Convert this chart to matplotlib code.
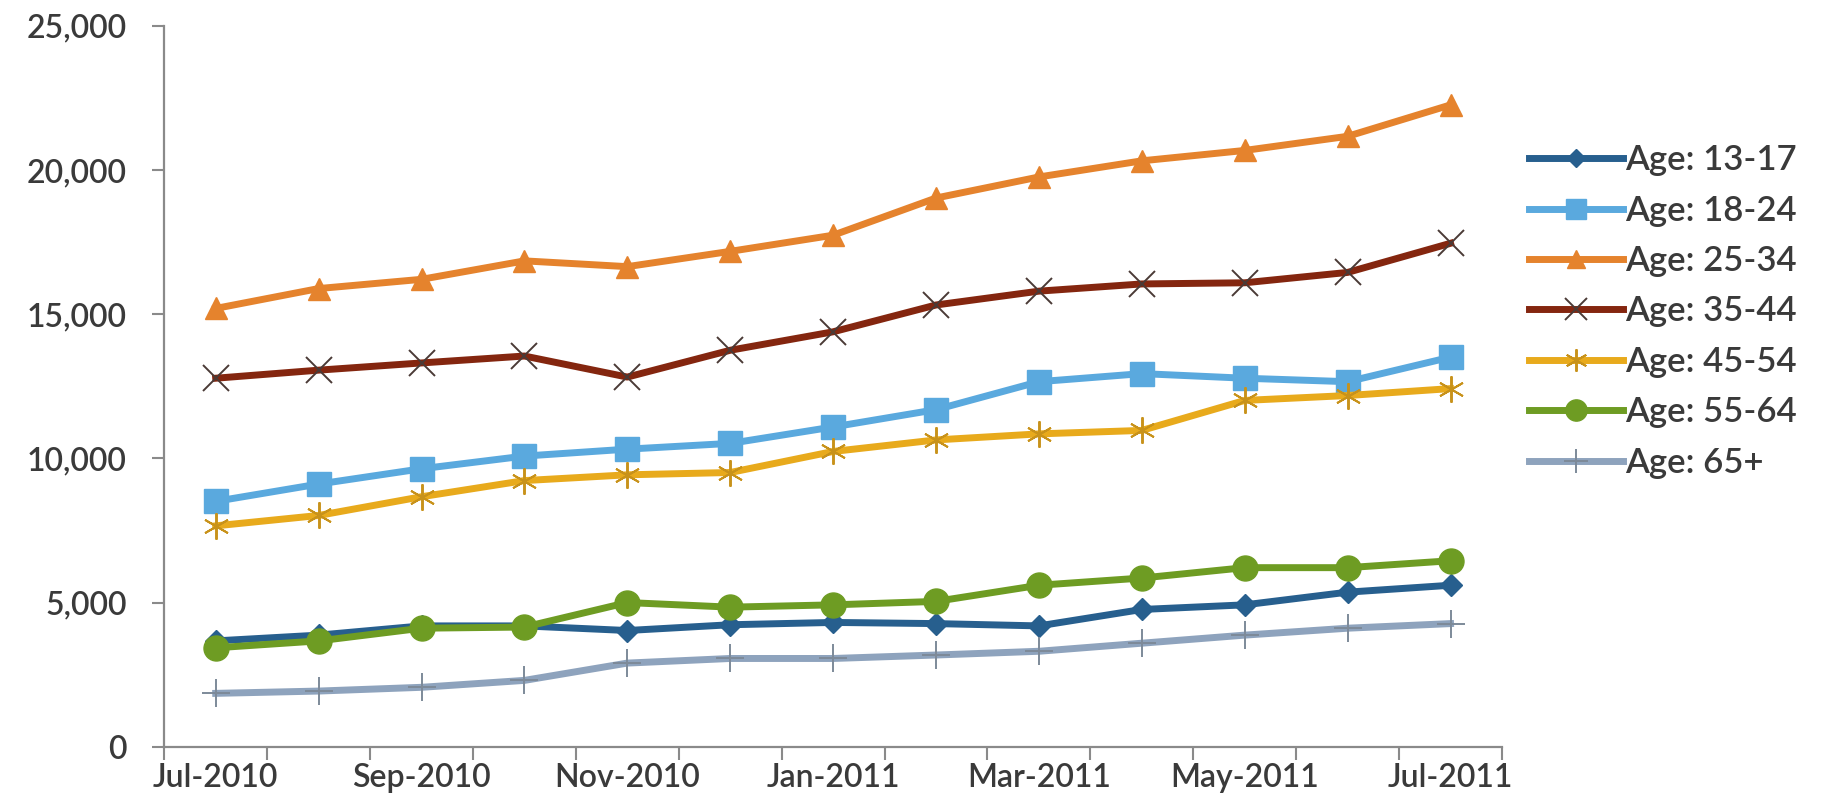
import matplotlib
matplotlib.use('Agg')
import matplotlib.pyplot as plt

months = ['Jul-2010', 'Aug-2010', 'Sep-2010', 'Oct-2010', 'Nov-2010', 'Dec-2010', 'Jan-2011',
          'Feb-2011', 'Mar-2011', 'Apr-2011', 'May-2011', 'Jun-2011', 'Jul-2011']

age_13_17 = [3670, 3870, 4190, 4190, 4030, 4230, 4310, 4270, 4190, 4760, 4920, 5360, 5600]
age_18_24 = [8510, 9110, 9640, 10080, 10320, 10520, 11090, 11690, 12660, 12940, 12780, 12660, 13510]
age_25_34 = [15200, 15890, 16210, 16850, 16650, 17180, 17740, 19030, 19760, 20320, 20680, 21170, 22260]
age_35_44 = [12780, 13060, 13310, 13550, 12820, 13750, 14390, 15320, 15800, 16050, 16090, 16450, 17460]
age_45_54 = [7660, 8020, 8670, 9230, 9430, 9510, 10240, 10640, 10850, 10970, 12010, 12180, 12420]
age_55_64 = [3430, 3670, 4110, 4150, 5000, 4840, 4920, 5040, 5600, 5850, 6210, 6210, 6450]
age_65 = [1850, 1930, 2060, 2300, 2900, 3060, 3060, 3180, 3310, 3590, 3870, 4110, 4270]

labels = ['Age: 13-17', 'Age: 18-24', 'Age: 25-34', 'Age: 35-44', 'Age: 45-54', 'Age: 55-64', 'Age: 65+']
series = [age_13_17, age_18_24, age_25_34, age_35_44, age_45_54, age_55_64, age_65]

# line colour, marker, marker size, marker face, marker edge, edge width
styles = [
    ('#275F8E', 'D', 11, '#275F8E', '#275F8E', 1),
    ('#5AA9DE', 's', 17, '#5AA9DE', '#5AA9DE', 1),
    ('#E5832D', '^', 16, '#E5832D', '#E5832D', 1),
    ('#84260F', 'x', 19, 'none', '#4A3A36', 1.4),
    ('#E8AA1C', (6, 2, 0), 19, 'none', '#C8921A', 1.4),
    ('#6E9C23', 'o', 18, '#6E9C23', '#6E9C23', 1),
    ('#8EA3BD', '+', 20, 'none', '#7D8A99', 1.4),
]

text_color = '#3A3A3A'
axis_color = '#8A8A8A'
plt.rcParams['font.family'] = ['Lato', 'DejaVu Sans']
plt.rcParams['font.weight'] = 'semibold'

fig = plt.figure(figsize=(18.25, 8.09), dpi=100)
ax = fig.add_axes([0.090, 0.077, 0.733, 0.891])

x = list(range(len(months)))
for vals, lab, (col, mk, ms, mfc, mec, mew) in zip(series, labels, styles):
    ax.plot(x, vals, color=col, linewidth=5, marker=mk, markersize=ms,
            markerfacecolor=mfc, markeredgecolor=mec, markeredgewidth=mew,
            label=lab, solid_joinstyle='round')

ax.set_xlim(-0.5, len(months) - 0.5)
ax.set_ylim(0, 25000)

# tick marks on category boundaries, labels on every second month
ax.set_xticks([i - 0.5 for i in range(len(months) + 1)])
ax.set_xticklabels([])
ax.set_xticks(x[::2], minor=True)
ax.set_xticklabels(months[::2], minor=True)
ax.tick_params(axis='x', which='major', length=9, width=1.5, color=axis_color, direction='out')
ax.tick_params(axis='x', which='minor', length=0, pad=12, labelsize=23, labelcolor=text_color)

ax.set_yticks([0, 5000, 10000, 15000, 20000, 25000])
ax.set_yticklabels(['0', '5,000', '10,000', '15,000', '20,000', '25,000'])
ax.tick_params(axis='y', length=9, width=1.5, color=axis_color, pad=18,
               labelsize=23, labelcolor=text_color)

for side in ['top', 'right']:
    ax.spines[side].set_visible(False)
for side in ['left', 'bottom']:
    ax.spines[side].set_color(axis_color)
    ax.spines[side].set_linewidth(1.6)

leg = fig.legend(loc='center left', bbox_to_anchor=(0.838, 0.615), frameon=False,
                 fontsize=25, handlelength=2.7, handletextpad=0.05, labelspacing=0.53,
                 borderpad=0, borderaxespad=0, markerscale=0.85)
for t in leg.get_texts():
    t.set_color(text_color)

plt.savefig('out.png', dpi=100, facecolor='white')
